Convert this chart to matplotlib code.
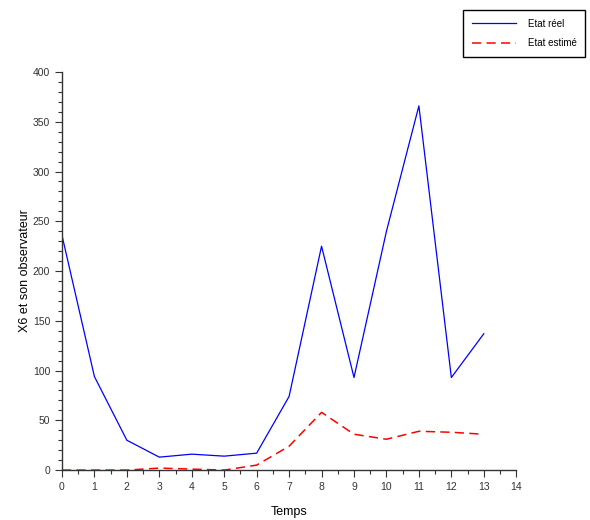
import numpy as np
import matplotlib.pyplot as plt

plt.rcParams['font.family'] = ['Liberation Sans', 'DejaVu Sans']

temps = [0, 1, 2, 3, 4, 5, 6, 7, 8, 9, 10, 11, 12, 13]
etat_reel = [236, 94, 30, 13, 16, 14, 17, 74, 225, 93, 240, 366, 93, 137]
etat_estime = [0, 0, 0, 2, 1, 0, 5, 24, 58, 36, 31, 39, 38, 36]

fig = plt.figure(figsize=(5.9, 5.2), dpi=100)
ax = fig.add_axes([0.105, 0.096, 0.770, 0.7655])

ax.plot(temps, etat_reel, color='blue', lw=0.9, label='Etat réel')
ax.plot(temps, etat_estime, color='red', lw=1.1, ls=(0, (6, 3.5)), label='Etat estimé')

ax.set_xlim(0, 14)
ax.set_ylim(0, 400)
ax.set_xticks(np.arange(0, 15, 1))
ax.set_xticks(np.arange(0, 14.5, 0.5), minor=True)
ax.set_yticks(np.arange(0, 401, 50))
ax.set_yticks(np.arange(0, 401, 10), minor=True)

for s in ['top', 'right']:
    ax.spines[s].set_visible(False)
for s in ['left', 'bottom']:
    ax.spines[s].set_color('#333333')
    ax.spines[s].set_linewidth(1.0)

ax.tick_params(which='major', direction='out', length=5, width=0.8,
               labelsize=7.5, colors='#333333')
ax.tick_params(which='minor', direction='out', length=3, width=0.8, colors='#333333')

ax.set_xlabel('Temps', fontsize=9, labelpad=10)
ax.set_ylabel('X6 et son observateur', fontsize=9, labelpad=1)

fig.legend(loc='upper right', bbox_to_anchor=(0.992, 0.981), fontsize=7,
           fancybox=False, edgecolor='black', framealpha=1, borderaxespad=0,
           handlelength=4.5, borderpad=0.9, labelspacing=1.0, handletextpad=1.2)

fig.savefig('out.png', dpi=100)
